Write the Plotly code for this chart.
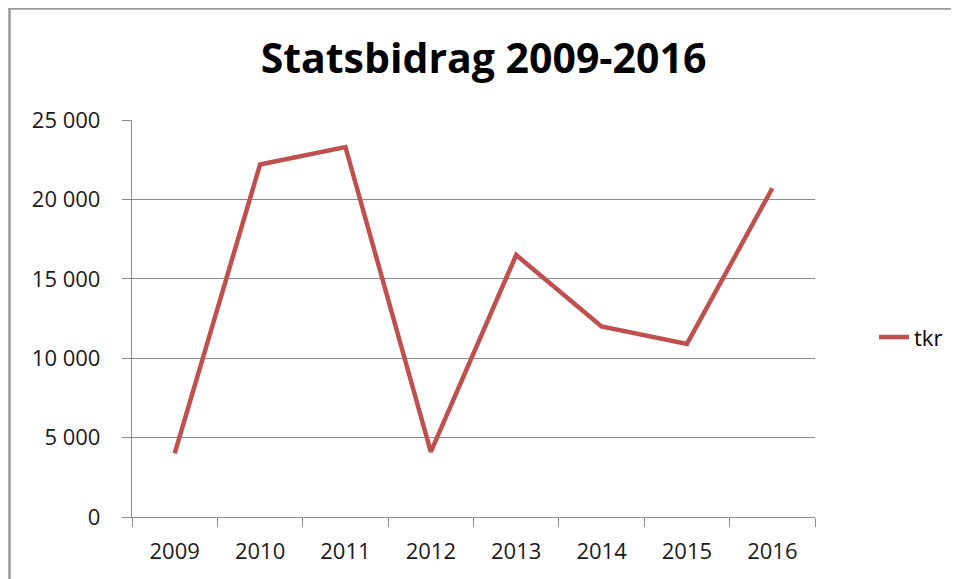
import plotly.graph_objects as go

years = ["2009", "2010", "2011", "2012", "2013", "2014", "2015", "2016"]
tkr = [4000, 22200, 23300, 4100, 16500, 12000, 10900, 20700]
ytick_vals = [0, 5000, 10000, 15000, 20000, 25000]
ytick_text = ["0", "5 000", "10 000", "15 000", "20 000", "25 000"]

FONT = "Open Sans"
GRID = "#8c8c8c"

W, H = 951, 571
L, R, T, B = 124, 144, 112, 62
PW = W - L - R
PH = H - T - B

fig = go.Figure()
fig.add_trace(go.Scatter(
    x=years, y=tkr, mode="lines", name="tkr",
    line=dict(color="#c0504d", width=4.5),
))

fig.update_layout(
    width=W, height=H,
    paper_bgcolor="white", plot_bgcolor="white",
    margin=dict(l=L, r=R, t=T, b=B, autoexpand=False),
    title=dict(text="<b>Statsbidrag 2009-2016</b>", x=0.5, xanchor="center",
               y=1 - 51 / H, yanchor="middle",
               font=dict(family=FONT, size=41, color="black")),
    showlegend=True,
    legend=dict(x=(874 - 8 - L) / PW, xanchor="left", y=0.453, yanchor="middle",
                font=dict(family=FONT, size=22, color="black"),
                bgcolor="rgba(0,0,0,0)"),
    xaxis=dict(type="category", range=[-0.5, 7.5], showgrid=False,
               showline=True, linecolor=GRID, linewidth=1.3,
               ticks="outside", tickson="boundaries", ticklen=9,
               tickcolor=GRID, tickwidth=1.3, ticklabelstandoff=14,
               tickfont=dict(family=FONT, size=22, color="#1a1a1a"),
               fixedrange=True),
    yaxis=dict(range=[0, 25000], tickvals=ytick_vals, ticktext=ytick_text,
               showgrid=True, gridcolor=GRID, gridwidth=1.3,
               showline=True, linecolor=GRID, linewidth=1.3,
               ticks="outside", ticklen=9, tickcolor=GRID, tickwidth=1.3,
               ticklabelstandoff=17, zeroline=False,
               tickfont=dict(family=FONT, size=22, color="#1a1a1a"),
               fixedrange=True),
    shapes=[
        dict(type="line", xref="paper", yref="paper",
             x0=(1.5 - L) / PW, x1=(1.5 - L) / PW,
             y0=(T + PH) / PH, y1=-(B + 10) / PH,
             line=dict(color="#9a9a9a", width=2.5)),
        dict(type="line", xref="paper", yref="paper",
             x0=(0 - L) / PW, x1=(W - L) / PW,
             y0=(T + PH - 0.5) / PH, y1=(T + PH - 0.5) / PH,
             line=dict(color="#9a9a9a", width=2.5)),
    ],
)

fig.write_html("out.html")
